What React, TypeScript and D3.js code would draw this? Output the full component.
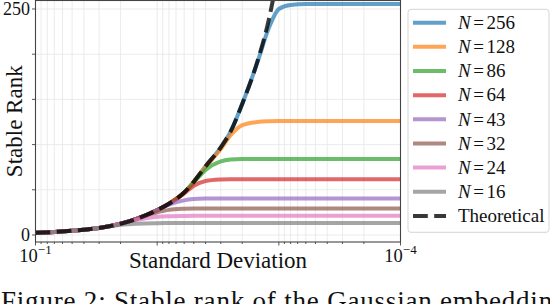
import React from "react";
import * as d3 from "d3";

// ---- data ----
const sigmas = [1e-1, 7e-2, 5e-2, 4e-2, 3e-2, 2e-2, 1.5e-2, 1e-2, 8e-3, 6e-3, 5e-3, 4e-3, 3e-3, 2.5e-3, 2e-3, 1.5e-3, 1.2e-3, 1e-3, 8e-4, 6e-4, 4e-4, 2e-4, 1e-4];

const theoretical = [2.5, 3.4, 4.7, 5.9, 7.8, 12.5, 17.5, 27.5, 34.5, 47, 59, 76, 97, 114, 145, 192, 240, 295];

const n256 = [2.5, 3.4, 4.7, 5.9, 7.8, 12.5, 17.5, 27.5, 34.5, 47, 59, 76, 97, 114, 145, 191, 230, 250, 254.5, 255.5, 255.5, 255.5, 255.5];
const n128 = [2.5, 3.4, 4.7, 5.9, 7.8, 12.5, 17.5, 27.5, 34.5, 47, 59, 75.5, 95, 110, 121.5, 125, 125.8, 126, 126, 126, 126, 126, 126];
const n86 = [2.5, 3.4, 4.7, 5.9, 7.8, 12.5, 17.5, 27.5, 34.5, 47, 58, 72, 81.5, 83.5, 84, 84, 84, 84, 84, 84, 84, 84, 84];
const n64 = [2.5, 3.4, 4.7, 5.9, 7.8, 12.5, 17.5, 27.5, 34.5, 46, 54.5, 59.8, 61.5, 61.8, 61.8, 61.8, 61.8, 61.8, 61.8, 61.8, 61.8, 61.8, 61.8];
const n43 = [2.5, 3.4, 4.7, 5.9, 7.8, 12.5, 17.5, 27.5, 33.5, 38.3, 39.7, 40.3, 40.5, 40.5, 40.5, 40.5, 40.5, 40.5, 40.5, 40.5, 40.5, 40.5, 40.5];
const n32 = [2.5, 3.4, 4.7, 5.9, 7.8, 12.5, 17.5, 25, 27.8, 29, 29.3, 29.4, 29.4, 29.4, 29.4, 29.4, 29.4, 29.4, 29.4, 29.4, 29.4, 29.4, 29.4];
const n24 = [2.5, 3.4, 4.7, 5.9, 7.8, 12.5, 16.5, 20.2, 20.8, 21.1, 21.2, 21.2, 21.2, 21.2, 21.2, 21.2, 21.2, 21.2, 21.2, 21.2, 21.2, 21.2, 21.2];
const n16 = [2.5, 3.4, 4.7, 5.9, 7.8, 11.2, 12.5, 13.1, 13.2, 13.3, 13.3, 13.3, 13.3, 13.3, 13.3, 13.3, 13.3, 13.3, 13.3, 13.3, 13.3, 13.3, 13.3];

const seriesNames = ["256", "128", "86", "64", "43", "32", "24", "16"];
const seriesValues = [n256, n128, n86, n64, n43, n32, n24, n16];
const seriesColors = ["#1f77b4", "#ff7f0e", "#2ca02c", "#d62728", "#9467bd", "#8c564b", "#e377c2", "#7f7f7f"];

const yTicks = [0, 50, 100, 150, 200, 250];
const yTickLabels: Record<number, string> = { 0: "0", 250: "250" };
const xLabelExps: [number, string][] = [[1e-1, "\u22121"], [1e-4, "\u22124"]];

const FONT = "'Liberation Serif', 'Times New Roman', serif";

export default function App() {
  const W = 550, H = 304;
  const L = 35.5, R = 400.5, T = 0.5, B = 242;
  const x = d3.scaleLog().domain([1e-1, 1e-4]).range([L, R]);
  const y = d3.scaleLinear().domain([-7.75, 259.4]).range([B, T]);

  const line = d3
    .line<[number, number]>()
    .x((d) => x(d[0]))
    .y((d) => y(d[1]))
    .curve(d3.curveMonotoneX);

  const xTicks = x.ticks();
  const majors = [1e-1, 1e-2, 1e-3, 1e-4];
  const isMajor = (t: number) => majors.some((m) => Math.abs(t - m) / m < 1e-6);

  const legendX = 408, legendY = 9.3, legendW = 141, legendH = 223;
  const entryY0 = 22.7, entryStep = 24.15;

  return (
    <div style={{ position: "fixed", left: 0, top: 0 }}>
      <svg width={W} height={H} style={{ display: "block", background: "white" }}>
        <defs>
          <clipPath id="plot">
            <rect x={L} y={T} width={R - L} height={B - T} />
          </clipPath>
        </defs>
        <rect x={0} y={0} width={W} height={H} fill="white" />
        {/* grid */}
        <g stroke="#e6e6e6" strokeWidth={0.8}>
          {xTicks.map((t, i) => (
            <line key={"gx" + i} x1={x(t)} x2={x(t)} y1={T} y2={B} />
          ))}
          {yTicks.map((t) => (
            <line key={"gy" + t} x1={L} x2={R} y1={y(t)} y2={y(t)} />
          ))}
        </g>
        {/* series */}
        <g clipPath="url(#plot)" fill="none">
          {seriesValues.map((vals, i) => (
            <path
              key={seriesNames[i]}
              d={line(sigmas.map((s, j) => [s, vals[j]] as [number, number])) || ""}
              stroke={seriesColors[i]}
              strokeOpacity={0.7}
              strokeWidth={4}
              strokeLinejoin="round"
            />
          ))}
          <path
            d={line(theoretical.map((v, j) => [sigmas[j], v] as [number, number])) || ""}
            stroke="#000"
            strokeOpacity={0.78}
            strokeWidth={4}
            strokeDasharray="14.8 6.4"
          />
        </g>
        {/* spines */}
        <rect x={L} y={T} width={R - L} height={B - T} fill="none" stroke="#444" strokeWidth={1.1} />
        {/* ticks */}
        <g stroke="#444" strokeWidth={0.9}>
          {xTicks.map((t, i) => (
            <line key={"tx" + i} x1={x(t)} x2={x(t)} y1={B} y2={B + (isMajor(t) ? 3.5 : 2)} />
          ))}
          {yTicks.map((t) => (
            <line key={"ty" + t} x1={L} x2={L - 3.5} y1={y(t)} y2={y(t)} />
          ))}
        </g>
        {/* labels */}
        <g fontFamily={FONT} fill="#111">
          {yTicks
            .filter((t) => yTickLabels[t] !== undefined)
            .map((t) => (
              <text key={"ly" + t} x={30} y={y(t) + 6} fontSize={18} textAnchor="end">
                {yTickLabels[t]}
              </text>
            ))}
          {xLabelExps.map(([v, e]) => (
            <text key={"lx" + v} x={x(v)} y={261.7} fontSize={18.5} textAnchor="middle">
              10
              <tspan dy={-7.5} fontSize={13}>
                {e}
              </tspan>
            </text>
          ))}
          <text x={(L + R) / 2} y={267.7} fontSize={23} textAnchor="middle">
            Standard Deviation
          </text>
          <text transform={`translate(21.5, ${(T + B) / 2}) rotate(-90)`} fontSize={23} textAnchor="middle">
            Stable Rank
          </text>
          <text x={1} y={310} fontSize={27} letterSpacing={0.8}>
            Figure 2: Stable rank of the Gaussian embeddings
          </text>
        </g>
        {/* legend */}
        <g>
          <rect x={legendX} y={legendY} width={legendW} height={legendH} rx={3} fill="white" fillOpacity={0.8} stroke="#d0d0d0" strokeWidth={0.9} />
          {seriesNames.map((n, i) => {
            const cy = entryY0 + i * entryStep;
            return (
              <g key={"lg" + n}>
                <line x1={413} x2={446} y1={cy} y2={cy} stroke={seriesColors[i]} strokeOpacity={0.7} strokeWidth={4} />
                <text x={458} y={cy + 6.3} fontFamily={FONT} fontSize={19} fill="#111">
                  <tspan fontStyle="italic">N</tspan>
                  <tspan dx={2.5}>=</tspan>
                  <tspan dx={2.5}>{n}</tspan>
                </text>
              </g>
            );
          })}
          {(() => {
            const cy = entryY0 + 8 * entryStep;
            return (
              <g>
                <line x1={413} x2={446} y1={cy} y2={cy} stroke="#000" strokeOpacity={0.78} strokeWidth={4} strokeDasharray="14.8 6.4" />
                <text x={458} y={cy + 6.3} fontFamily={FONT} fontSize={19} fill="#111">
                  Theoretical
                </text>
              </g>
            );
          })()}
        </g>
      </svg>
    </div>
  );
}
